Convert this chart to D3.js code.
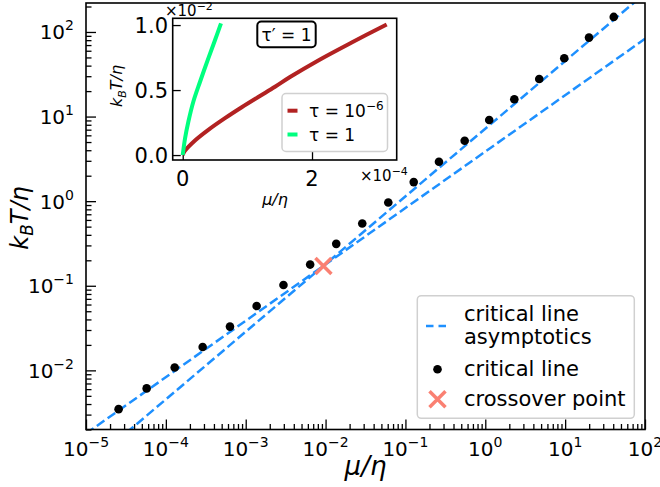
<!DOCTYPE html>
<html>
<head>
<meta charset="utf-8">
<script src="https://cdn.jsdelivr.net/npm/d3@7"></script>
<style>
  body { margin: 0; background: #fff; }
  #vis text { font-family: "DejaVu Sans", sans-serif; fill: #000; }
</style>
</head>
<body>
<div id="vis"></div>
<script>
// critical line (main plot, log-log)
const critMu = [2.56e-5, 5.75e-5, 1.29e-4, 2.89e-4, 6.35e-4, 1.37e-3, 2.97e-3, 6.41e-3, 1.36e-2, 2.88e-2,
  6.10e-2, 0.127, 0.263, 0.552, 1.12, 2.31, 4.74, 9.75, 19.9, 40.6];
const critT = [3.48e-3, 6.12e-3, 1.08e-2, 1.89e-2, 3.29e-2, 5.77e-2, 0.102, 0.178, 0.313, 0.545,
  0.966, 1.68, 2.92, 5.17, 9.10, 16.0, 27.8, 48.9, 85.8, 150.6];

// asymptotic lines, given by their end points
const asymMu = [1e-5, 1e2];
const asymLowT = [1.79e-3, 83];
const asymHighT = [7.2e-4, 286];

// crossover point
const crossMu = [9.4e-3];
const crossT = [0.171];

const xTickExp = [-5, -4, -3, -2, -1, 0, 1, 2];
const yTickExp = [-2, -1, 0, 1, 2];

// inset (mu in units of 1e-4, kT in units of 1e-2)
const redMu = [0, 0.03, 0.19, 0.396, 0.654, 0.913, 1.169, 1.428, 1.66, 2.097, 2.614, 3.155];
const redT = [0, 0.03, 0.112, 0.194, 0.284, 0.368, 0.447, 0.525, 0.6, 0.728, 0.866, 1.005];
const greenMu = [0, 0.036, 0.087, 0.164, 0.268, 0.396, 0.5, 0.592];
const greenT = [0, 0.128, 0.256, 0.41, 0.564, 0.744, 0.885, 1.013];
const insetXTicks = [0, 2];
const insetYTicks = [0, 0.5, 1.0];
const insetYLabels = ["0.0", "0.5", "1.0"];

const W = 660, H = 487;
const plot = { left: 86, right: 645, top: 3, bottom: 429.5 };
const inset = { left: 172.7, right: 396.7, top: 18.3, bottom: 160 };
const blue = "#1e90ff";

var svg = d3.select("#vis").append("svg")
  .attr("width", W).attr("height", H);

var x = d3.scaleLog().domain([1e-5, 1e2]).range([plot.left, plot.right]);
var y = d3.scaleLog().domain([2e-3, 220]).range([plot.bottom, plot.top]);

svg.append("clipPath").attr("id", "clip")
  .append("rect")
  .attr("x", plot.left).attr("y", plot.top)
  .attr("width", plot.right - plot.left).attr("height", plot.bottom - plot.top);

// minor ticks
function minors(lo, hi) {
  var out = [];
  for (var e = lo; e < hi; e++) for (var m = 2; m <= 9; m++) out.push(m * Math.pow(10, e));
  return out;
}
var xMinor = minors(-5, 2);
var yMinor = minors(-3, 3).filter(function (v) { return v >= 2e-3 && v <= 220; });

function styleAxis(g) {
  g.select(".domain").remove();
  g.selectAll(".tick line").attr("stroke", "#000").attr("stroke-width", 1.3);
  g.selectAll(".tick text").remove();
}

svg.append("g").attr("transform", "translate(0," + plot.bottom + ")")
  .call(d3.axisBottom(x).tickValues(xMinor).tickSize(-5.5).tickFormat(""))
  .call(styleAxis);
svg.append("g").attr("transform", "translate(0," + plot.bottom + ")")
  .call(d3.axisBottom(x).tickValues(xTickExp.map(function (e) { return Math.pow(10, e); })).tickSize(-10).tickFormat(""))
  .call(styleAxis);
svg.append("g").attr("transform", "translate(" + plot.left + ",0)")
  .call(d3.axisLeft(y).tickValues(yMinor).tickSize(-5.5).tickFormat(""))
  .call(styleAxis);
svg.append("g").attr("transform", "translate(" + plot.left + ",0)")
  .call(d3.axisLeft(y).tickValues(yTickExp.map(function (e) { return Math.pow(10, e); })).tickSize(-10).tickFormat(""))
  .call(styleAxis);

// power-of-ten labels
function powLabel(sel, e) {
  sel.append("tspan").text("10");
  sel.append("tspan").attr("dy", -9).attr("font-size", 14).text(e < 0 ? "\u2212" + (-e) : e);
}
xTickExp.forEach(function (e) {
  svg.append("text")
    .attr("x", x(Math.pow(10, e))).attr("y", 456)
    .attr("text-anchor", "middle").attr("font-size", 20)
    .call(powLabel, e);
});
yTickExp.forEach(function (e) {
  svg.append("text")
    .attr("x", 74).attr("y", y(Math.pow(10, e)) + 7.5)
    .attr("text-anchor", "end").attr("font-size", 20)
    .call(powLabel, e);
});

// axis labels
svg.append("text")
  .attr("x", (plot.left + plot.right) / 2).attr("y", 475)
  .attr("text-anchor", "middle").attr("font-size", 26).attr("font-style", "italic")
  .text("\u03bc/\u03b7");
var yl = svg.append("text")
  .attr("transform", "translate(28," + 218 + ") rotate(-90)")
  .attr("text-anchor", "middle").attr("font-size", 24).attr("font-style", "italic");
yl.append("tspan").text("k");
yl.append("tspan").attr("font-size", 17).attr("dy", 5).text("B");
yl.append("tspan").attr("dy", -5).text("T/\u03b7");

// asymptotes
var main = svg.append("g").attr("clip-path", "url(#clip)");
var line = d3.line().x(function (d) { return x(d[0]); }).y(function (d) { return y(d[1]); });
[asymLowT, asymHighT].forEach(function (ts) {
  main.append("path")
    .datum(asymMu.map(function (m, i) { return [m, ts[i]]; }))
    .attr("d", line)
    .attr("fill", "none").attr("stroke", blue).attr("stroke-width", 2.5)
    .attr("stroke-dasharray", "9.25,4");
});

// critical line points
main.selectAll(".dot")
  .data(critMu.map(function (m, i) { return [m, critT[i]]; }))
  .enter().append("circle")
  .attr("class", "dot")
  .attr("cx", function (d) { return x(d[0]); })
  .attr("cy", function (d) { return y(d[1]); })
  .attr("r", 4.3).attr("fill", "#000");

// crossover marker
function cross(g, cx, cy, s) {
  g.append("path")
    .attr("d", "M" + (cx - s) + "," + (cy - s) + "L" + (cx + s) + "," + (cy + s) +
      "M" + (cx - s) + "," + (cy + s) + "L" + (cx + s) + "," + (cy - s))
    .attr("stroke", "#fa8072").attr("stroke-width", 3.5).attr("fill", "none");
}
crossMu.forEach(function (m, i) { cross(svg, x(m), y(crossT[i]), 8); });

// frame
svg.append("rect")
  .attr("x", plot.left).attr("y", plot.top)
  .attr("width", plot.right - plot.left).attr("height", plot.bottom - plot.top)
  .attr("fill", "none").attr("stroke", "#000").attr("stroke-width", 1.6);

// main legend
var lg = svg.append("g");
lg.append("rect")
  .attr("x", 417.3).attr("y", 295.7).attr("width", 217).attr("height", 122.6).attr("rx", 4)
  .attr("fill", "#fff").attr("fill-opacity", 0.8).attr("stroke", "#d0d0d0").attr("stroke-width", 1.5);
lg.append("line").attr("x1", 426).attr("x2", 447).attr("y1", 326).attr("y2", 326)
  .attr("stroke", blue).attr("stroke-width", 2.5).attr("stroke-dasharray", "7.5,5");
lg.append("circle").attr("cx", 437.5).attr("cy", 369.3).attr("r", 4.3).attr("fill", "#000");
cross(lg, 437.5, 399.3, 8);
[["critical line", 320.7], ["asymptotics", 344], ["critical line", 375.7], ["crossover point", 406]]
  .forEach(function (t) {
    lg.append("text").attr("x", 464).attr("y", t[1]).attr("font-size", 21).text(t[0]);
  });

// ---------- inset ----------
var xi = d3.scaleLinear().domain([-0.155, 3.31]).range([inset.left, inset.right]);
var yi = d3.scaleLinear().domain([-0.038, 1.052]).range([inset.bottom, inset.top]);
var ins = svg.append("g");
ins.append("rect")
  .attr("x", inset.left).attr("y", inset.top)
  .attr("width", inset.right - inset.left).attr("height", inset.bottom - inset.top)
  .attr("fill", "#fff");

ins.append("g").attr("transform", "translate(0," + inset.bottom + ")")
  .call(d3.axisBottom(xi).tickValues(insetXTicks).tickSize(-8).tickFormat(""))
  .call(styleAxis);
ins.append("g").attr("transform", "translate(" + inset.left + ",0)")
  .call(d3.axisLeft(yi).tickValues(insetYTicks).tickSize(-8).tickFormat(""))
  .call(styleAxis);
insetXTicks.forEach(function (v) {
  ins.append("text").attr("x", xi(v)).attr("y", 186).attr("text-anchor", "middle")
    .attr("font-size", 21).text(v);
});
insetYTicks.forEach(function (v, i) {
  ins.append("text").attr("x", 168).attr("y", yi(v) + 7.5).attr("text-anchor", "end")
    .attr("font-size", 21).text(insetYLabels[i]);
});

// offset texts
var o1 = ins.append("text").attr("x", 165).attr("y", 16).attr("font-size", 15);
o1.append("tspan").text("\u00d710");
o1.append("tspan").attr("dy", -6).attr("font-size", 11).text("\u22122");
var o2 = ins.append("text").attr("x", 360).attr("y", 181).attr("font-size", 15);
o2.append("tspan").text("\u00d710");
o2.append("tspan").attr("dy", -6).attr("font-size", 11).text("\u22124");

// inset axis labels
ins.append("text").attr("x", 275).attr("y", 205).attr("text-anchor", "middle")
  .attr("font-size", 16).attr("font-style", "italic").text("\u03bc/\u03b7");
var yl2 = ins.append("text")
  .attr("transform", "translate(122," + 86 + ") rotate(-90)")
  .attr("text-anchor", "middle").attr("font-size", 16).attr("font-style", "italic");
yl2.append("tspan").text("k");
yl2.append("tspan").attr("font-size", 11).attr("dy", 4).text("B");
yl2.append("tspan").attr("dy", -4).text("T/\u03b7");

// inset curves
var lineI = d3.line().curve(d3.curveCatmullRom.alpha(0.5))
  .x(function (d) { return xi(d[0]); }).y(function (d) { return yi(d[1]); });
ins.append("path")
  .datum(redMu.map(function (m, i) { return [m, redT[i]]; }))
  .attr("d", lineI).attr("fill", "none").attr("stroke", "#b22222").attr("stroke-width", 4);
ins.append("path")
  .datum(greenMu.map(function (m, i) { return [m, greenT[i]]; }))
  .attr("d", lineI).attr("fill", "none").attr("stroke", "#00ff7f").attr("stroke-width", 4);

ins.append("rect")
  .attr("x", inset.left).attr("y", inset.top)
  .attr("width", inset.right - inset.left).attr("height", inset.bottom - inset.top)
  .attr("fill", "none").attr("stroke", "#000").attr("stroke-width", 1.6);

// tau' = 1 box
ins.append("rect").attr("x", 257.3).attr("y", 21.5).attr("width", 58.4).attr("height", 25.8).attr("rx", 4)
  .attr("fill", "#fff").attr("stroke", "#000").attr("stroke-width", 2);
ins.append("text").attr("x", 286.5).attr("y", 40.5).attr("text-anchor", "middle")
  .attr("font-size", 17).text("\u03c4\u2032 = 1");

// inset legend
ins.append("rect").attr("x", 282).attr("y", 93.5).attr("width", 105.5).attr("height", 58).attr("rx", 4)
  .attr("fill", "#fff").attr("fill-opacity", 0.8).attr("stroke", "#d0d0d0").attr("stroke-width", 1.5);
ins.append("line").attr("x1", 287.5).attr("x2", 297.5).attr("y1", 110.7).attr("y2", 110.7)
  .attr("stroke", "#b22222").attr("stroke-width", 4);
ins.append("line").attr("x1", 287.5).attr("x2", 297.5).attr("y1", 134.5).attr("y2", 134.5)
  .attr("stroke", "#00ff7f").attr("stroke-width", 4);
var t1 = ins.append("text").attr("x", 309).attr("y", 116.5).attr("font-size", 17);
t1.append("tspan").text("\u03c4 = 10");
t1.append("tspan").attr("dy", -7).attr("font-size", 12).text("\u22126");
ins.append("text").attr("x", 309).attr("y", 140.5).attr("font-size", 17).text("\u03c4 = 1");
</script>
</body>
</html>
